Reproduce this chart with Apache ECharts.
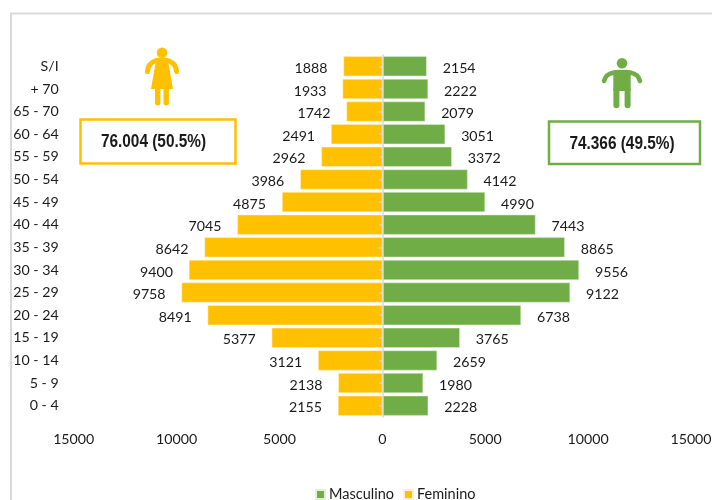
<!DOCTYPE html>
<html><head><meta charset="utf-8">
<style>html,body{margin:0;padding:0;background:#fff}#c{width:712px;height:500px}</style>
<script src="https://cdn.jsdelivr.net/npm/echarts@6/dist/echarts.min.js"></script>
</head><body><div id="c"></div>
<script>
const categories = ['0 - 4','5 - 9','10 - 14','15 - 19','20 - 24','25 - 29','30 - 34','35 - 39','40 - 44','45 - 49','50 - 54','55 - 59','60 - 64','65 - 70','+ 70','S/I'];
const masculino = [2228,1980,2659,3765,6738,9122,9556,8865,7443,4990,4142,3372,3051,2079,2222,2154];
const feminino = [2155,2138,3121,5377,8491,9758,9400,8642,7045,4875,3986,2962,2491,1742,1933,1888];
const femaleTotal = '76.004 (50.5%)';
const maleTotal = '74.366 (49.5%)';
const GREEN='#70ad47', YELLOW='#ffc000', FONT='Lato, Carlito, sans-serif', TXT='#1a1a1a', GRAY='#d9d9d9', FS=14.2;
const lbl = {show:true,distance:16,offset:[0,2],color:TXT,fontFamily:FONT,fontSize:FS,formatter:p=>String(Math.abs(p.value))};
const chart = echarts.init(document.getElementById('c'));
const box=(x,y,w,h,c,t,tx,ty)=>[
 {type:'rect',shape:{x,y,width:w,height:h},style:{fill:'#fff',stroke:c,lineWidth:2.5},z:5},
 {type:'text',x:tx,y:ty,scaleX:0.855,style:{text:t,align:'center',verticalAlign:'middle',fill:'#1a1a1a',font:'bold 18px "Liberation Sans", sans-serif'},z:6}
];
const stroke=(pts,c,w)=>({type:'polyline',shape:{points:pts,smooth:0.4},style:{stroke:c,lineWidth:w,lineCap:'round',lineJoin:'round',fill:null},z:5});
const female=[
 {type:'circle',shape:{cx:162,cy:52.8,r:5.3},style:{fill:YELLOW},z:5},
 {type:'polygon',shape:{points:[[157,59],[167,59],[169,66],[173,89],[151,89],[155,66]]},style:{fill:YELLOW},z:5},
 stroke([[147.5,71.5],[149.5,65],[155,61],[160,60]],YELLOW,5),
 stroke([[176.5,71.5],[174.5,65],[169,61],[164,60]],YELLOW,5),
 stroke([[157.7,88],[157.7,102.8]],YELLOW,5.4),
 stroke([[166.2,88],[166.2,102.8]],YELLOW,5.4)
];
const male=[
 {type:'circle',shape:{cx:622,cy:63.3,r:5.3},style:{fill:GREEN},z:5},
 {type:'rect',shape:{x:613.3,y:71,width:17.4,height:20},style:{fill:GREEN},z:5},
 stroke([[604,81],[607,75.5],[614,72.5],[622,72.3]],GREEN,4.6),
 stroke([[640,81],[637,75.5],[630,72.5],[622,72.3]],GREEN,4.6),
 stroke([[616.4,90],[616.4,105.2]],GREEN,6),
 stroke([[627.6,90],[627.6,105.2]],GREEN,6)
];
chart.setOption({
 animation:false,
 backgroundColor:'#fff',
 textStyle:{fontFamily:FONT},
 grid:{left:73.7,right:21,top:55,bottom:83,containLabel:false,outerBoundsMode:'none'},
 legend:{data:['Masculino','Feminino'],left:310,top:482,itemWidth:9,itemHeight:9,itemGap:9,icon:'rect',textStyle:{fontFamily:FONT,fontSize:14.5,color:TXT,padding:[0,0,0,-1]}},
 xAxis:{type:'value',min:-15000,max:15000,interval:5000,splitLine:{show:false},axisLine:{show:false},axisTick:{show:false},
  axisLabel:{margin:15,color:TXT,fontFamily:FONT,fontSize:FS,formatter:v=>String(Math.abs(v))}},
 yAxis:[
  {type:'category',data:categories,position:'left',axisLine:{show:true,onZero:true,lineStyle:{color:GRAY,width:1.5}},axisTick:{show:true,alignWithLabel:true,length:3,lineStyle:{color:GRAY,width:1.5}},axisLabel:{show:false},z:10},
  {type:'category',data:categories,position:'left',axisLine:{show:false,onZero:false},axisTick:{show:false},axisLabel:{margin:15,color:TXT,fontFamily:FONT,fontSize:FS,padding:[3,0,0,0]}}
 ],
 series:[
  {name:'Masculino',type:'bar',yAxisIndex:0,data:masculino,barWidth:'88%',barGap:'-100%',itemStyle:{color:GREEN,borderColor:'#e2efd9',borderWidth:0.5},label:{...lbl,position:'right'}},
  {name:'Feminino',type:'bar',yAxisIndex:0,data:feminino.map(v=>-v),barWidth:'88%',itemStyle:{color:YELLOW,borderColor:'#fff2cc',borderWidth:0.5},label:{...lbl,position:'left'}}
 ],
 graphic:[
  {type:'polyline',shape:{points:[[11,500],[11,13.5],[712,13.5]]},style:{stroke:GRAY,lineWidth:2,fill:null},z:0},
  ...box(80.5,119.5,155,44,YELLOW,femaleTotal,153.5,142.5),
  ...box(549,121.5,151,42.5,GREEN,maleTotal,622,144),
  ...female,...male
 ]
});
</script></body></html>
